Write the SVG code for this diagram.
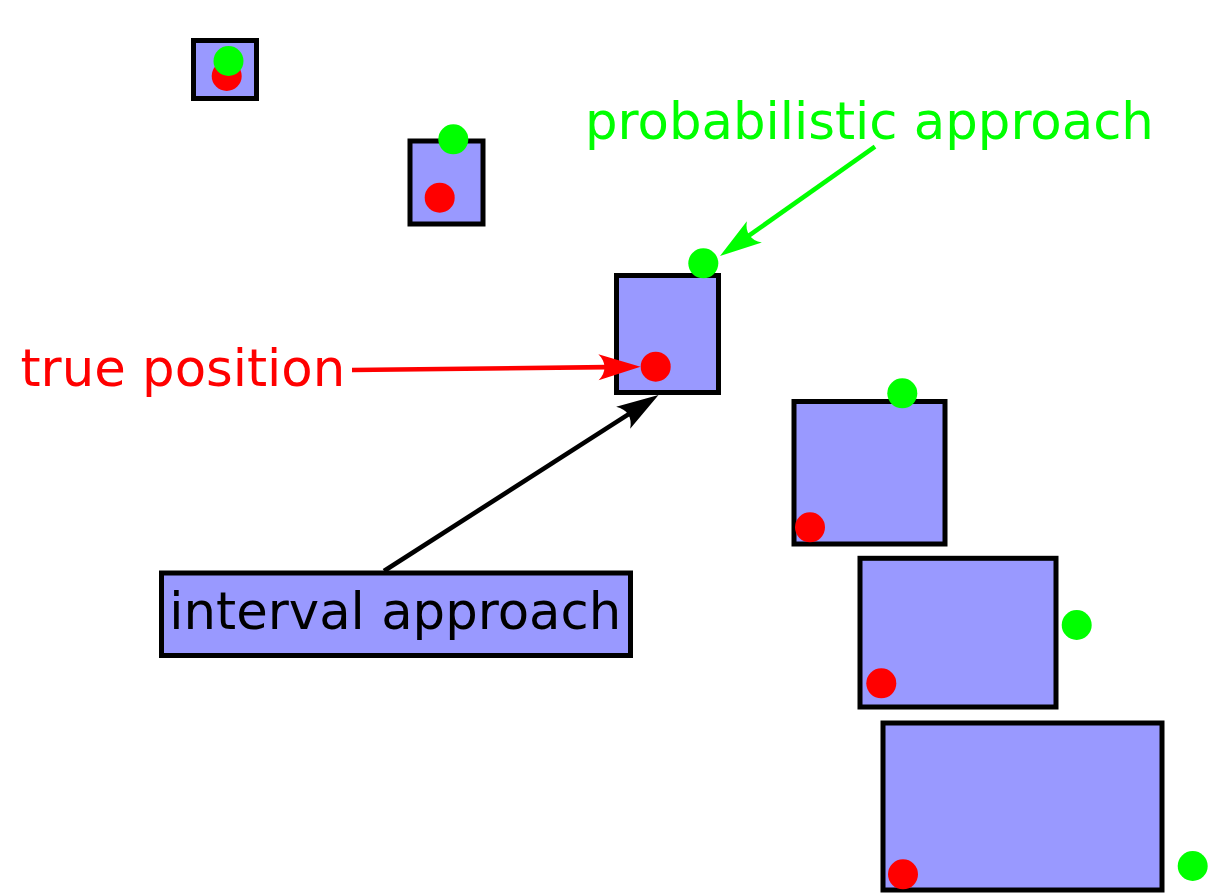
<svg xmlns="http://www.w3.org/2000/svg" width="1211" height="893" viewBox="0 0 1211 893">
<style>
.box{fill:#9999ff;stroke:#000;stroke-width:5}
.g{fill:#00ff00}
.r{fill:#ff0000}
.lbl{font-family:"DejaVu Sans",Verdana,sans-serif;font-size:51.3px}
.conn{fill:none;stroke-width:4.6}
</style>
<defs>
<marker id="ar" markerUnits="userSpaceOnUse" orient="auto" refX="0" refY="0" markerWidth="80" markerHeight="80" viewBox="-20 -40 80 80" overflow="visible"><path d="M34,0 L-8,-13 C0,-5 0,5 -8,13 Z" fill="#ff0000"/></marker>
<marker id="ag" markerUnits="userSpaceOnUse" orient="auto" refX="0" refY="0" markerWidth="80" markerHeight="80" viewBox="-20 -40 80 80" overflow="visible"><path d="M34,0 L-8,-13 C0,-5 0,5 -8,13 Z" fill="#00ff00"/></marker>
<marker id="ak" markerUnits="userSpaceOnUse" orient="auto" refX="0" refY="0" markerWidth="80" markerHeight="80" viewBox="-20 -40 80 80" overflow="visible"><path d="M34,0 L-8,-13 C0,-5 0,5 -8,13 Z" fill="#000"/></marker>
</defs>
<rect width="1211" height="893" fill="#fff"/>
<g id="box1"><rect class="box" x="193.5" y="40.5" width="63" height="58"/><circle class="r" cx="226.7" cy="76" r="15"/><circle class="g" cx="228.5" cy="61" r="15"/></g>
<g id="box2"><rect class="box" x="410" y="141" width="73" height="83"/><circle class="r" cx="439.7" cy="197.7" r="15"/><circle class="g" cx="453.3" cy="139.3" r="15"/></g>
<g id="box3"><rect class="box" x="616.5" y="275.5" width="102" height="117"/><circle class="r" cx="655.7" cy="366.7" r="15"/><circle class="g" cx="703.3" cy="263.3" r="15"/></g>
<g id="box4"><rect class="box" x="794" y="401.5" width="151" height="142.5"/><circle class="r" cx="810" cy="527.3" r="15"/><circle class="g" cx="902.3" cy="393.3" r="15"/></g>
<g id="box5"><rect class="box" x="860" y="558.3" width="196" height="148.7"/><circle class="r" cx="881.3" cy="683.3" r="15"/><circle class="g" cx="1076.7" cy="625" r="15"/></g>
<g id="box6"><rect class="box" x="883" y="723" width="279" height="167"/><circle class="r" cx="903" cy="874.3" r="15"/><circle class="g" cx="1192.7" cy="866" r="15"/></g>
<g id="label-true"><text class="lbl" x="20.5" y="386" fill="#ff0000">true position</text></g>
<g id="label-prob"><text class="lbl" x="585" y="139" fill="#00ff00">probabilistic approach</text></g>
<g id="label-interval"><rect class="box" x="161.5" y="573" width="469" height="82.5"/><text class="lbl" x="169.3" y="628.5" fill="#000">interval approach</text></g>
<g id="connectors">
<line class="conn" x1="352" y1="370" x2="606.5" y2="367.1" stroke="#ff0000" marker-end="url(#ar)"/>
<line class="conn" x1="875" y1="146.7" x2="747.8" y2="236.4" stroke="#00ff00" marker-end="url(#ag)"/>
<line class="conn" x1="384" y1="571" x2="629.9" y2="413.4" stroke="#000" marker-end="url(#ak)"/>
</g>
</svg>
